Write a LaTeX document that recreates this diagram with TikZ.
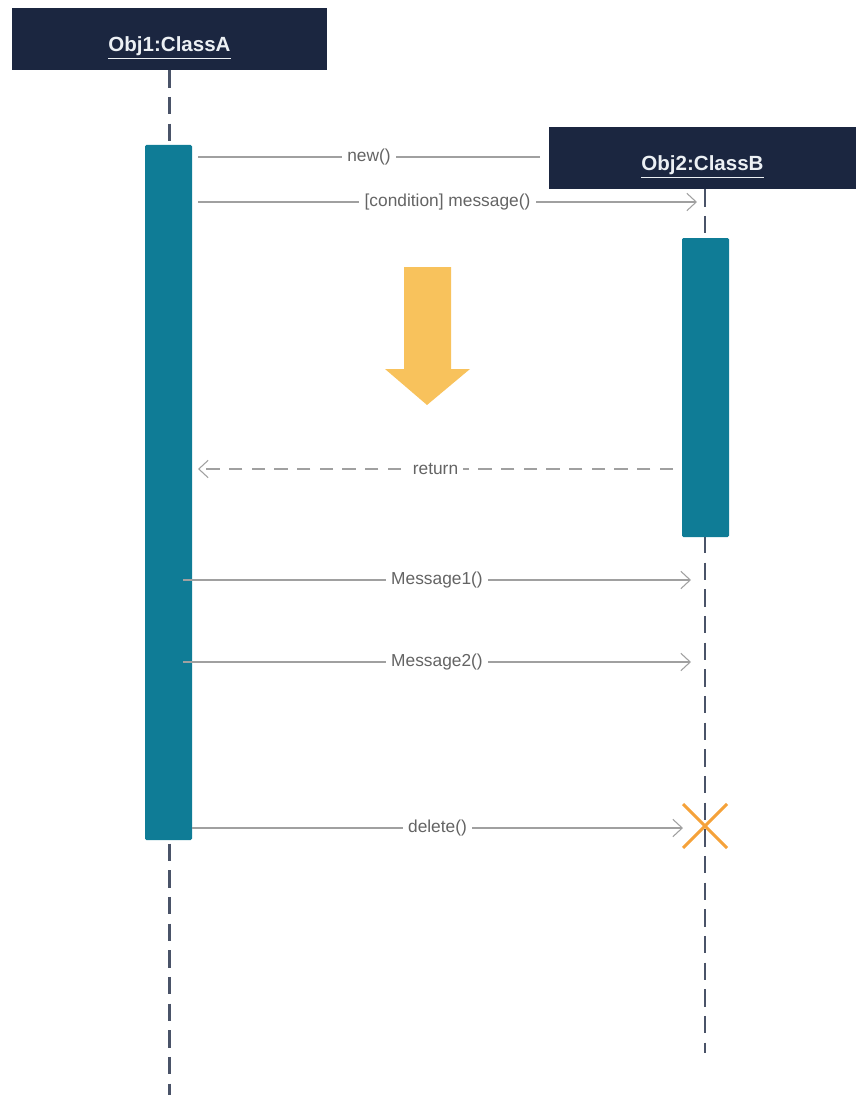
\documentclass[tikz,border=0pt]{standalone}
\usepackage{fontspec}
\setmainfont{Liberation Sans}
\usetikzlibrary{arrows.meta,positioning}
\definecolor{headnavy}{RGB}{27,38,64}
\definecolor{headtext}{RGB}{236,240,244}
\definecolor{lifegray}{RGB}{74,83,104}
\definecolor{actteal}{RGB}{15,124,150}
\definecolor{msggray}{RGB}{160,160,160}
\definecolor{lblgray}{RGB}{100,100,100}
\definecolor{hintyellow}{RGB}{248,194,92}
\definecolor{killorange}{RGB}{245,162,58}
\begin{document}
\begin{tikzpicture}[
      x=0.75pt,
      y=-0.75pt,
      >={Straight Barb[length=7pt,width=13pt]},
      head/.style={fill=headnavy, text=headtext, inner sep=0pt,
        font=\bfseries\fontsize{15.4}{18}\selectfont, minimum height=46.5pt,
        text height=19.5pt, text depth=0pt},
      lifeline/.style={draw=lifegray, line width=2.2pt, dash pattern=on 13pt off 7pt},
      actbar/.style={fill=actteal, rounded corners=1pt, minimum width=35.25pt, inner sep=0pt},
      msg/.style={draw=msggray, line width=0.8pt},
      call/.style={msg, ->},
      reply/.style={msg, ->, dash pattern=on 10pt off 7pt},
      lbl/.style={fill=white, text=lblgray, font=\fontsize{13}{15}\selectfont,
        inner xsep=4pt, inner ysep=1pt},
      killx/.style={draw=killorange, line width=2.2pt}
    ]
    \useasboundingbox (0,0) rectangle (856,1095);

    % objects
    \node[head, minimum width=236.25pt] (objA) at (169.5,39) {\underline{Obj1:ClassA}};
    \node[head, minimum width=230.25pt] (objB) at (702.5,158) {\underline{Obj2:ClassB}};

    % lifelines
    \coordinate (endA) at (169.5,1095);
    \coordinate (endB) at (705,1053);
    \draw[lifeline] (objA.south) -- (endA);
    \draw[lifeline] (endB |- objB.south) -- (endB);

    % activations
    \node[actbar, minimum height=521.25pt] (actA) at (168.5,492.5) {};
    \node[actbar, minimum height=224.25pt] (actB) at (705.5,387.5) {};

    % messages
    \coordinate (newS) at (198,157);
    \coordinate (newE) at (540,157);
    \coordinate (condS) at (198,202);
    \coordinate (condE) at (697,202);
    \coordinate (retS) at (673,469);
    \coordinate (retE) at (198,469);
    \coordinate (msgoneS) at (183,580);
    \coordinate (msgoneE) at (691,580);
    \coordinate (msgtwoS) at (183,662);
    \coordinate (msgtwoE) at (691,662);
    \coordinate (delS) at (192,828);
    \coordinate (delE) at (683,828);

    \draw[msg] (newS) -- node[lbl]{new()} (newE);
    \draw[call] (condS) -- node[lbl]{[condition] message()} (condE);
    \draw[reply] (retS) -- node[lbl]{return} (retE);
    \draw[call] (msgoneS) -- node[lbl]{Message1()} (msgoneE);
    \draw[call] (msgtwoS) -- node[lbl]{Message2()} (msgtwoE);
    \draw[call] (delS) -- node[lbl]{delete()} (delE);

    % hint arrow
    \fill[hintyellow] (404,267) -- (451,267) -- (451,369) -- (470,369)
      -- (427,405) -- (385,369) -- (404,369) -- cycle;

    % destruction
    \coordinate (killB) at (705,826);
    \draw[killx] (killB) ++(-22,-22) -- ++(44,44);
    \draw[killx] (killB) ++(22,-22) -- ++(-44,44);
  \end{tikzpicture}
\end{document}
